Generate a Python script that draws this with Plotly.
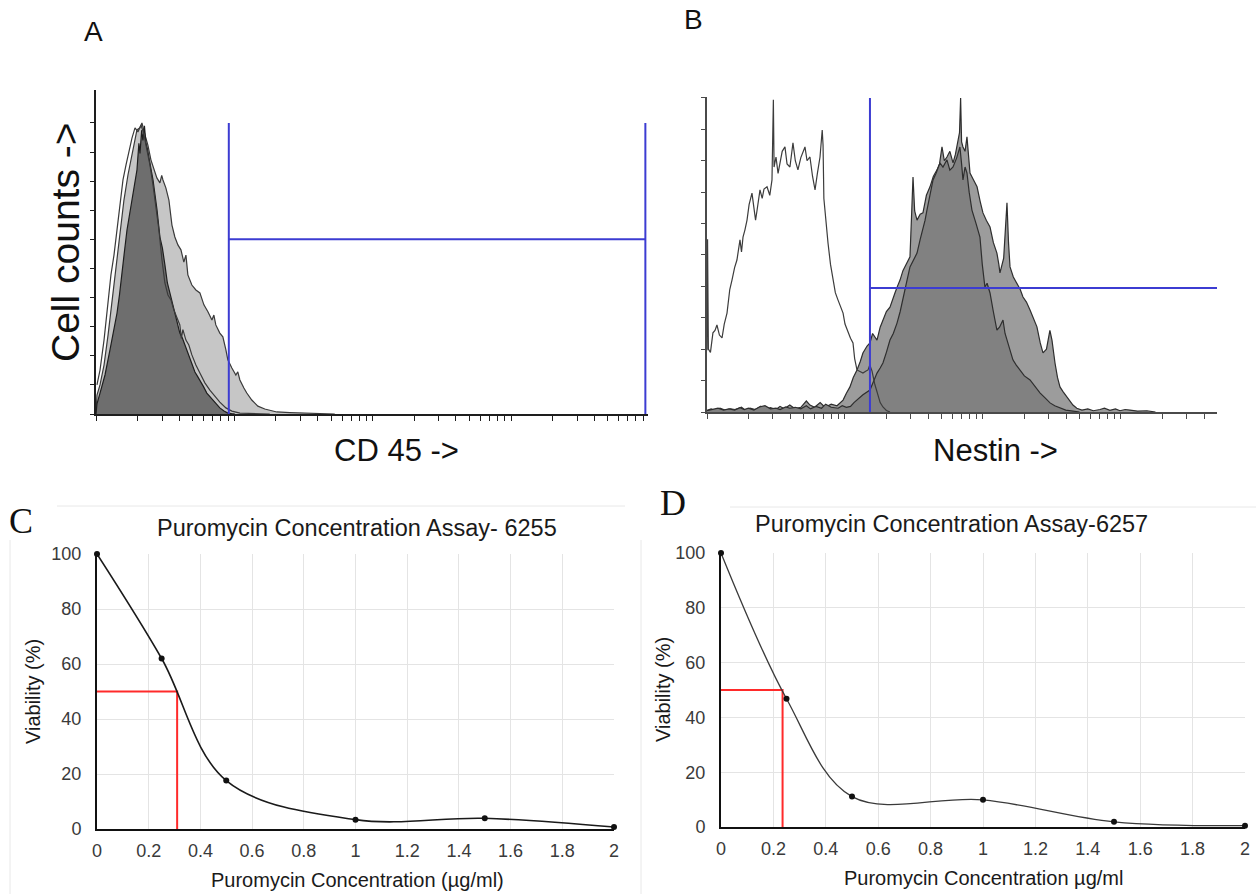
import math
import plotly.graph_objects as go

W, H = 1257, 895

# ---------------- Data ----------------
# Panel A (CD45) histograms: (log10 fluorescence, relative counts in y-tick units)
a_white = [(0.007, 1.0), (0.029, 1.51), (0.058, 2.54), (0.087, 3.92), (0.108, 4.78), (0.130, 5.46),
           (0.152, 6.32), (0.173, 7.18), (0.195, 8.04), (0.217, 8.56), (0.238, 9.07), (0.260, 9.48),
           (0.282, 9.83), (0.303, 9.69), (0.325, 9.93), (0.347, 9.59), (0.368, 9.07), (0.390, 8.56),
           (0.412, 7.87), (0.433, 7.18), (0.455, 6.32), (0.477, 5.29), (0.498, 4.5), (0.520, 4.09),
           (0.542, 3.92), (0.563, 3.57), (0.585, 3.3), (0.606, 3.06), (0.617, 2.6), (0.628, 2.9),
           (0.650, 2.54), (0.671, 2.37), (0.693, 2.03), (0.722, 1.68), (0.751, 1.41), (0.787, 1.07),
           (0.823, 0.82), (0.859, 0.62), (0.895, 0.41), (0.939, 0.21), (0.982, 0.1), (1.040, 0.03),
           (1.112, 0.02), (1.256, 0.0)]
a_light = [(0.0, 0.0), (0.007, 0.65), (0.029, 1.0), (0.058, 1.68), (0.087, 2.71), (0.116, 3.92),
           (0.144, 5.12), (0.173, 6.32), (0.202, 7.35), (0.231, 8.21), (0.253, 8.73), (0.274, 9.24),
           (0.296, 9.76), (0.318, 9.83), (0.332, 10.0), (0.354, 9.59), (0.375, 9.24), (0.397, 8.73),
           (0.419, 8.38), (0.440, 8.11), (0.462, 7.94), (0.475, 8.2), (0.484, 8.04), (0.505, 7.77),
           (0.527, 7.35), (0.549, 6.49), (0.570, 6.08), (0.592, 5.81), (0.614, 5.64), (0.635, 5.22),
           (0.650, 5.46), (0.664, 4.78), (0.693, 4.43), (0.722, 4.26), (0.751, 4.16), (0.780, 3.75),
           (0.809, 3.51), (0.838, 3.23), (0.852, 3.4), (0.866, 3.06), (0.895, 2.78), (0.917, 2.65),
           (0.939, 2.2), (0.953, 1.86), (0.982, 1.58), (1.011, 1.34), (1.025, 1.45), (1.040, 1.17),
           (1.069, 0.89), (1.090, 0.72), (1.126, 0.48), (1.170, 0.27), (1.220, 0.17), (1.307, 0.07),
           (1.401, 0.05), (1.509, 0.03), (1.617, 0.02), (1.726, 0.0)]
a_dark = [(0.0, 0.0), (0.007, 0.35), (0.029, 0.72), (0.065, 1.34), (0.101, 2.2), (0.13, 2.9),
          (0.152, 3.47), (0.17, 4.1), (0.188, 4.95), (0.206, 5.6), (0.224, 6.32), (0.24, 6.8),
          (0.253, 7.18), (0.274, 7.87), (0.285, 8.2), (0.296, 8.38), (0.31, 9.3), (0.318, 8.95),
          (0.33, 9.75), (0.339, 9.4), (0.35, 9.9), (0.361, 9.3), (0.372, 9.1), (0.383, 8.73),
          (0.398, 8.4), (0.412, 8.04), (0.426, 7.6), (0.441, 7.01), (0.462, 6.08), (0.48, 5.7),
          (0.498, 5.12), (0.516, 4.5), (0.534, 4.16), (0.552, 3.8), (0.570, 3.51), (0.588, 3.1),
          (0.606, 2.78), (0.625, 2.6), (0.643, 2.37), (0.661, 2.1), (0.679, 1.86), (0.697, 1.7),
          (0.715, 1.44), (0.733, 1.3), (0.751, 1.17), (0.776, 0.95), (0.801, 0.72), (0.823, 0.6),
          (0.845, 0.48), (0.870, 0.33), (0.895, 0.21), (0.925, 0.1), (0.953, 0.03), (0.98, 0.01),
          (1.004, 0.0)]
a_gate_x = [0.960, 3.971]   # CD45 gate (log10)
a_gate_y = 6.0
a_gate_top = 10.0

# Panel B (Nestin) histograms
b_white = [(0, 1.97), (0.004, 5.5), (0.01, 2.0), (0.025, 1.9), (0.043, 2.52), (0.058, 2.6),
           (0.072, 2.77), (0.09, 2.45), (0.109, 2.36), (0.125, 2.8), (0.145, 3.15), (0.165, 3.9),
           (0.181, 4.2), (0.2, 4.6), (0.217, 4.84), (0.229, 5.2), (0.239, 5.48), (0.25, 5.1),
           (0.261, 5.57), (0.275, 5.8), (0.290, 6.11), (0.305, 6.6), (0.326, 6.97), (0.34, 6.5),
           (0.352, 6.11), (0.362, 6.4), (0.384, 7.07), (0.40, 6.8), (0.413, 7.1), (0.435, 7.17),
           (0.455, 6.9), (0.471, 7.39), (0.476, 8.5), (0.481, 9.94), (0.486, 7.8), (0.5, 8.12),
           (0.515, 7.6), (0.529, 7.93), (0.545, 8.3), (0.565, 8.44), (0.58, 7.9), (0.601, 7.80),
           (0.612, 8.2), (0.623, 8.57), (0.64, 8.0), (0.659, 7.71), (0.68, 8.1), (0.710, 8.44),
           (0.725, 8.0), (0.746, 8.12), (0.765, 7.5), (0.783, 7.07), (0.80, 7.6), (0.819, 8.12),
           (0.835, 8.98), (0.841, 8.5), (0.847, 6.8), (0.855, 6.34), (0.877, 5.38), (0.895, 4.7),
           (0.913, 4.20), (0.93, 3.8), (0.949, 3.57), (0.965, 3.4), (0.986, 3.15), (1.0, 2.8),
           (1.022, 2.52), (1.04, 2.35), (1.058, 2.20), (1.07, 1.7), (1.087, 1.34), (1.11, 1.28),
           (1.130, 1.24), (1.15, 1.3), (1.167, 1.34), (1.18, 1.5), (1.196, 1.3), (1.215, 0.9),
           (1.232, 0.61), (1.255, 0.3), (1.275, 0.16), (1.3, 0.05), (1.326, 0.0)]
b_medium = [(0, 0.05), (0.03, 0.1), (0.06, 0.04), (0.094, 0.12), (0.13, 0.06), (0.17, 0.1),
            (0.203, 0.08), (0.25, 0.15), (0.28, 0.05), (0.312, 0.12), (0.35, 0.08), (0.39, 0.18),
            (0.420, 0.06), (0.46, 0.14), (0.5, 0.08), (0.529, 0.18), (0.56, 0.1), (0.6, 0.22),
            (0.638, 0.1), (0.68, 0.15), (0.72, 0.35), (0.746, 0.22), (0.78, 0.15), (0.82, 0.3),
            (0.855, 0.15), (0.9, 0.25), (0.942, 0.2), (0.986, 0.38), (1.01, 0.6), (1.036, 0.80),
            (1.06, 1.1), (1.087, 1.34), (1.11, 1.6), (1.130, 1.88), (1.16, 2.1), (1.181, 2.20),
            (1.2, 2.5), (1.232, 2.29), (1.255, 2.7), (1.275, 2.93), (1.3, 3.2), (1.326, 3.34),
            (1.345, 3.6), (1.362, 3.79), (1.38, 4.0), (1.399, 4.20), (1.42, 4.5), (1.435, 4.62),
            (1.455, 4.8), (1.471, 4.94), (1.482, 6.2), (1.493, 7.48), (1.505, 6.4), (1.522, 6.11),
            (1.545, 6.3), (1.565, 6.34), (1.59, 6.9), (1.616, 7.17), (1.64, 7.5), (1.667, 7.71),
            (1.685, 7.9), (1.703, 8.44), (1.72, 8.0), (1.739, 8.12), (1.76, 8.3), (1.783, 7.93),
            (1.8, 8.2), (1.819, 8.66), (1.83, 8.9), (1.838, 10.0), (1.845, 8.6), (1.855, 8.44),
            (1.87, 8.3), (1.884, 8.76), (1.895, 8.1), (1.906, 7.61), (1.93, 7.4), (1.957, 7.17),
            (1.98, 6.7), (2.0, 6.34), (2.025, 6.1), (2.051, 5.89), (2.075, 5.4), (2.101, 5.06),
            (2.115, 4.7), (2.123, 4.43), (2.15, 4.9), (2.165, 5.8), (2.174, 6.66), (2.185, 5.4),
            (2.196, 4.62), (2.22, 4.3), (2.246, 4.11), (2.27, 3.9), (2.290, 3.66), (2.315, 3.5),
            (2.341, 3.25), (2.365, 3.0), (2.391, 2.71), (2.415, 2.2), (2.435, 1.88), (2.46, 2.0),
            (2.485, 2.6), (2.5, 2.29), (2.51, 1.9), (2.522, 1.56), (2.54, 1.1), (2.558, 0.80),
            (2.58, 0.65), (2.609, 0.48), (2.63, 0.35), (2.652, 0.22), (2.68, 0.12), (2.717, 0.06),
            (2.76, 0.1), (2.8, 0.04), (2.848, 0.08), (2.88, 0.12), (2.92, 0.05), (2.96, 0.1),
            (2.993, 0.04), (3.03, 0.08), (3.065, 0.06), (3.12, 0.03), (3.188, 0.04), (3.25, 0.0)]
b_dark = [(0, 0.04), (0.04, 0.08), (0.08, 0.12), (0.12, 0.06), (0.16, 0.1), (0.2, 0.06),
          (0.24, 0.14), (0.27, 0.08), (0.3, 0.12), (0.34, 0.06), (0.38, 0.16), (0.42, 0.2),
          (0.46, 0.1), (0.5, 0.12), (0.53, 0.08), (0.57, 0.16), (0.6, 0.12), (0.64, 0.15),
          (0.68, 0.1), (0.72, 0.2), (0.75, 0.1), (0.79, 0.18), (0.83, 0.12), (0.86, 0.25),
          (0.9, 0.15), (0.95, 0.12), (0.98, 0.2), (1.01, 0.15), (1.04, 0.18), (1.065, 0.3),
          (1.087, 0.38), (1.13, 0.55), (1.181, 0.70), (1.21, 1.0), (1.232, 1.24), (1.255, 1.4),
          (1.275, 1.56), (1.3, 1.9), (1.326, 2.29), (1.35, 2.5), (1.377, 2.83), (1.40, 3.2),
          (1.420, 3.57), (1.445, 4.1), (1.471, 4.62), (1.5, 4.9), (1.522, 5.06), (1.545, 5.5),
          (1.565, 5.80), (1.58, 6.1), (1.594, 6.43), (1.615, 6.9), (1.638, 7.39), (1.66, 7.6),
          (1.688, 7.93), (1.71, 7.8), (1.739, 8.03), (1.76, 7.7), (1.783, 7.80), (1.81, 8.1),
          (1.833, 8.44), (1.845, 7.9), (1.855, 7.39), (1.87, 7.8), (1.884, 7.61), (1.9, 7.0),
          (1.920, 6.43), (1.95, 6.0), (1.978, 5.57), (1.995, 4.7), (2.014, 3.98), (2.03, 4.1),
          (2.051, 3.79), (2.075, 3.2), (2.101, 2.61), (2.12, 2.7), (2.145, 2.93), (2.16, 2.5),
          (2.174, 2.29), (2.195, 1.95), (2.217, 1.66), (2.24, 1.5), (2.268, 1.34), (2.3, 1.15),
          (2.341, 1.02), (2.38, 0.8), (2.413, 0.61), (2.45, 0.45), (2.486, 0.29), (2.52, 0.2),
          (2.558, 0.13), (2.6, 0.06), (2.652, 0.03), (2.7, 0.0)]
b_gate_x = [1.181, 3.696]
b_gate_y = 3.95
b_gate_top = 10.0

# Panels C and D: puromycin kill curves
conc = [0, 0.25, 0.5, 1, 1.5, 2]
viab_6255 = [100, 62, 17.6, 3.4, 3.9, 0.7]
viab_6257 = [100, 46.8, 11.1, 9.9, 1.9, 0.5]
half_viab = 50
ic50_6255 = 0.31
ic50_6257 = 0.235
conc_ticks = [0, 0.2, 0.4, 0.6, 0.8, 1, 1.2, 1.4, 1.6, 1.8, 2]
conc_ticktext = ["0", "0.2", "0.4", "0.6", "0.8", "1", "1.2", "1.4", "1.6", "1.8", "2"]
viab_ticks = [0, 20, 40, 60, 80, 100]

# ---------------- Helpers ----------------
def px_x(p):
    return p / W

def px_y(p):
    return 1 - p / H

SANS = "Liberation Sans, Arial, sans-serif"
SERIF = "Liberation Serif, Times New Roman, serif"

fig = go.Figure()

def hist(points, xa, ya, fill=None, line="#2b2b2b", width=1.2):
    xs = [p[0] for p in points]
    ys = [p[1] for p in points]
    kw = dict(x=xs, y=ys, xaxis=xa, yaxis=ya, mode="lines",
              line=dict(color=line, width=width), hoverinfo="skip")
    if fill:
        kw.update(fill="tozeroy", fillcolor=fill)
    fig.add_trace(go.Scatter(**kw))

# Panel A
hist(a_light, "x", "y", fill="#c6c6c6", line="#3a3a3a")
hist(a_dark, "x", "y", fill="#6e6e6e", line="#1e1e1e")
hist(a_white, "x", "y", line="#3a3a3a")
# Panel B
hist(b_medium, "x2", "y2", fill="#9c9c9c", line="#2e2e2e")
hist(b_dark, "x2", "y2", fill="#818181", line="#2e2e2e")
hist(b_white, "x2", "y2", line="#3c3c3c")

# gates
blue = "#3c3cd2"
def gate(gx, gy, top, xa, ya):
    for xv in gx:
        fig.add_trace(go.Scatter(x=[xv, xv], y=[0, top], xaxis=xa, yaxis=ya, mode="lines",
                                 line=dict(color=blue, width=2), hoverinfo="skip", cliponaxis=False))
    fig.add_trace(go.Scatter(x=gx, y=[gy, gy], xaxis=xa, yaxis=ya, mode="lines",
                             line=dict(color=blue, width=2), hoverinfo="skip", cliponaxis=False))

gate(a_gate_x, a_gate_y, a_gate_top, "x", "y")
fig.add_trace(go.Scatter(x=[b_gate_x[0], b_gate_x[0]], y=[0, b_gate_top], xaxis="x2", yaxis="y2",
                         mode="lines", line=dict(color=blue, width=2), hoverinfo="skip"))
fig.add_trace(go.Scatter(x=b_gate_x, y=[b_gate_y, b_gate_y], xaxis="x2", yaxis="y2",
                         mode="lines", line=dict(color=blue, width=2), hoverinfo="skip"))

# Panels C / D
red = "#ff2a2a"
for xa, ya, viab, ic50, lc, lw in [("x3", "y3", viab_6255, ic50_6255, "#1a1a1a", 1.6),
                                   ("x4", "y4", viab_6257, ic50_6257, "#3a3a3a", 1.3)]:
    fig.add_trace(go.Scatter(x=[0, ic50, ic50], y=[half_viab, half_viab, 0], xaxis=xa, yaxis=ya,
                             mode="lines", line=dict(color=red, width=2), hoverinfo="skip"))
    fig.add_trace(go.Scatter(x=conc, y=viab, xaxis=xa, yaxis=ya, mode="lines+markers",
                             line=dict(color=lc, width=lw, shape="spline", smoothing=1.0),
                             marker=dict(color="#111111", size=6), cliponaxis=False,
                             hoverinfo="skip"))

# log-decade tick positions for the flow histograms
log_ticks = [math.log10(k * 10 ** d) for d in range(4) for k in range(1, 10)]

def flow_x(dom, rng, lw, lc):
    return dict(domain=dom, range=rng, showgrid=False, zeroline=False, showline=True,
                linecolor=lc, linewidth=lw, ticks="outside", tickvals=log_ticks, ticklen=5,
                tickcolor=lc, tickwidth=1, showticklabels=False, fixedrange=True, automargin=False)

def flow_y(dom, rng, lw, lc, anchor):
    return dict(domain=dom, range=rng, showgrid=False, zeroline=False, showline=True,
                linecolor=lc, linewidth=lw, ticks="outside", tickvals=list(range(11)), ticklen=4,
                tickcolor=lc, tickwidth=1, showticklabels=False, anchor=anchor, fixedrange=True,
                automargin=False)

def conc_x(dom, anchor):
    return dict(domain=dom, range=[0, 2], anchor=anchor, tickvals=conc_ticks, ticktext=conc_ticktext,
                showgrid=True, gridcolor="#e4e4e4", gridwidth=1, zeroline=False, showline=True,
                linecolor="#111111", linewidth=2, ticks="", ticklabelstandoff=4, automargin=False,
                tickfont=dict(family=SANS, size=18, color="#3a3a3a"))

def viab_y(dom, anchor):
    return dict(domain=dom, range=[0, 100], anchor=anchor, tickvals=viab_ticks,
                showgrid=True, gridcolor="#e4e4e4", gridwidth=1, zeroline=False, showline=True,
                linecolor="#111111", linewidth=2, ticks="", ticklabelstandoff=10, automargin=False,
                tickfont=dict(family=SANS, size=18, color="#3a3a3a"))

layout = dict(
    width=W, height=H, margin=dict(l=0, r=0, t=0, b=0, pad=0, autoexpand=False), showlegend=False,
    autosize=False,
    paper_bgcolor="white", plot_bgcolor="rgba(0,0,0,0)",
    xaxis=flow_x([px_x(96), px_x(648)], [0, 3.99], 2, "#1e1e1e"),
    yaxis=flow_y([px_y(414), px_y(90)], [0, 11.13], 2, "#1e1e1e", "x"),
    xaxis2=flow_x([px_x(707), px_x(1217)], [0, 3.696], 2, "#4a4a4a"),
    yaxis2=flow_y([px_y(412), px_y(97)], [0, 10.03], 1.5, "#4a4a4a", "x2"),
    xaxis3=conc_x([px_x(97), px_x(614)], "y3"),
    yaxis3=viab_y([px_y(829), px_y(554)], "x3"),
    xaxis4=conc_x([px_x(721), px_x(1245)], "y4"),
    yaxis4=viab_y([px_y(827), px_y(553)], "x4"),
)
layout["xaxis"]["anchor"] = "y"
layout["xaxis2"]["anchor"] = "y2"
fig.update_layout(**layout)

def label(text, x, y, size, family=SANS, angle=0, color="#111111"):
    fig.add_annotation(text=text, x=px_x(x), y=px_y(y), xref="paper", yref="paper",
                       showarrow=False, xanchor="center", yanchor="middle", textangle=angle,
                       font=dict(family=family, size=size, color=color))

label("A", 93, 31, 28)
label("B", 693, 19, 28)
label("Cell counts ->", 65, 242, 39, angle=-90)
label("CD 45 ->", 396, 450, 31)
label("Nestin ->", 995, 450, 31)
label("C", 21, 521, 36, family=SERIF)
label("D", 673, 503, 36, family=SERIF)
label("Puromycin Concentration Assay- 6255", 357, 528, 23.5, color="#1a1a1a")
label("Puromycin Concentration Assay-6257", 951, 524, 23.5, color="#1a1a1a")
label("Puromycin Concentration (µg/ml)", 357, 880, 20, color="#1a1a1a")
label("Puromycin Concentration µg/ml", 983, 878, 20, color="#1a1a1a")
label("Viability (%)", 33, 692, 20, angle=-90, color="#1a1a1a")
label("Viability (%)", 663, 690, 20, angle=-90, color="#1a1a1a")

# faint frame lines of the pasted chart panels
for x0, y0, x1, y1 in [(57, 506, 625, 506), (10, 540, 10, 894), (730, 507, 1256, 507), (641, 540, 641, 894)]:
    fig.add_shape(type="line", xref="paper", yref="paper", x0=px_x(x0), y0=px_y(y0),
                  x1=px_x(x1), y1=px_y(y1), line=dict(color="#e8e8e8", width=1))

fig.write_html("out.html", config={"displayModeBar": False},
               post_script="document.body.style.margin='0';document.body.style.overflow='hidden';")
